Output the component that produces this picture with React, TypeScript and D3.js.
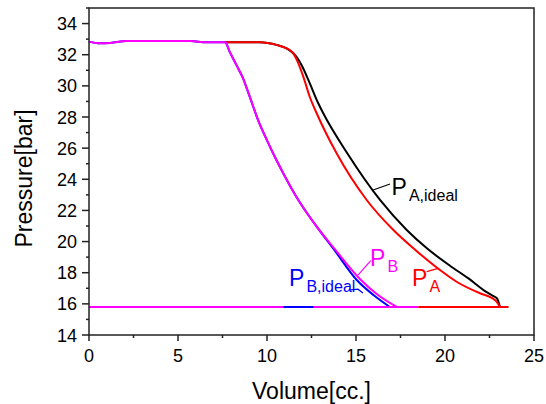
import React from "react";
import * as d3 from "d3";

// Pressure–volume traces (volume in cc, pressure in bar)
const pA: [number, number][] = [
  [7.65, 32.8], [9.6, 32.8], [10.54, 32.63], [11.1, 32.41], [11.48, 32.09],
  [11.76, 31.45], [12.04, 30.59], [12.4, 29.3], [12.79, 28.24], [13.91, 25.67],
  [15.6, 22.67], [17.1, 20.74], [18.5, 19.3], [19.72, 18.17], [20.65, 17.42],
  [21.97, 16.68], [22.6, 16.4], [22.9, 16.14], [23.09, 15.8],
];
const pAIdeal: [number, number][] = [
  [7.65, 32.8], [9.6, 32.8], [10.54, 32.63], [11.1, 32.41], [11.66, 31.87],
  [11.94, 31.34], [12.4, 30.17], [12.88, 28.88], [13.16, 28.24], [14.51, 25.67],
  [16.35, 22.67], [17.85, 20.74], [19.0, 19.55], [20.28, 18.45], [21.3, 17.65],
  [22.34, 16.75], [22.72, 16.5], [22.92, 16.35], [23.09, 15.8],
];
const pB: [number, number][] = [
  [0, 32.84], [0.6, 32.73], [1.2, 32.76], [2.1, 32.88], [5.7, 32.88],
  [6.6, 32.8], [7.65, 32.8], [7.9, 32.2], [8.3, 31.3], [8.65, 30.5],
  [9.0, 29.4], [9.5, 27.8], [10.0, 26.5], [10.5, 25.3], [11.0, 24.2],
  [11.69, 22.8], [12.7, 21.1], [13.82, 19.5], [15.22, 17.6], [16.2, 16.6],
  [17.29, 15.8],
];
const pBIdeal: [number, number][] = [
  [0, 32.84], [0.6, 32.73], [1.2, 32.76], [2.1, 32.88], [5.7, 32.88],
  [6.6, 32.8], [7.65, 32.8], [7.9, 32.2], [8.3, 31.3], [8.65, 30.5],
  [9.0, 29.4], [9.5, 27.8], [10.0, 26.5], [10.5, 25.3], [11.0, 24.2],
  [11.69, 22.8], [12.7, 21.1], [13.82, 19.4], [15.03, 17.55], [16.0, 16.55],
  [16.9, 15.8],
];

// Return strokes along the low-pressure line
const baseP = 15.8;
const baseB = [0, 18.5];
const baseA = [18.5, 23.57];
const baseBIdeal = [10.9, 12.6];

const xMajor = [0, 5, 10, 15, 20, 25];
const xMinor = [2.5, 7.5, 12.5, 17.5, 22.5];
const yMajor = [14, 16, 18, 20, 22, 24, 26, 28, 30, 32, 34];
const yMinor = [15, 17, 19, 21, 23, 25, 27, 29, 31, 33, 35];

const RED = "#ff0000";
const BLACK = "#000000";
const BLUE = "#0000ff";
const MAGENTA = "#ff00ff";

const W = 546;
const H = 404;
const left = 89;
const right = 534;
const top = 8;
const bottom = 335;
const font = "'Liberation Sans', Arial, sans-serif";

export default function App() {
  const x = d3.scaleLinear().domain([0, 25]).range([left, right]);
  const y = d3.scaleLinear().domain([14, 35]).range([bottom, top]);
  const line = d3
    .line<[number, number]>()
    .x((d) => x(d[0]))
    .y((d) => y(d[1]))
    .curve(d3.curveMonotoneX);
  const seg = (r: number[]) => `M${x(r[0])},${y(baseP)}H${x(r[1])}`;
  const lead = (pts: [number, number][]) =>
    d3.line<[number, number]>().x((d) => x(d[0])).y((d) => y(d[1]))(pts) || "";

  const axisColor = "#222";
  const label = (
    main: string,
    sub: string,
    vx: number,
    vy: number,
    color: string
  ) => (
    <text x={x(vx)} y={y(vy)} fill={color} fontFamily={font} fontSize={23}>
      {main}
      <tspan fontSize={16} dy={6} dx={2}>
        {sub}
      </tspan>
    </text>
  );

  return (
    <svg
      width={W}
      height={H}
      style={{ position: "absolute", left: 0, top: 0, background: "#fff" }}
    >
      {/* traces */}
      <path d={line(pAIdeal) || ""} fill="none" stroke={BLACK} strokeWidth={2} />
      <path d={line(pA) || ""} fill="none" stroke={RED} strokeWidth={2} />
      <path d={line(pBIdeal) || ""} fill="none" stroke={BLUE} strokeWidth={2} />
      <path d={line(pB) || ""} fill="none" stroke={MAGENTA} strokeWidth={2} />
      <path d={seg(baseB)} stroke={MAGENTA} strokeWidth={2} />
      <path d={seg(baseA)} stroke={RED} strokeWidth={2} />
      <path d={seg(baseBIdeal)} stroke={BLUE} strokeWidth={2} />

      {/* frame */}
      <rect
        x={left}
        y={top}
        width={right - left}
        height={bottom - top}
        fill="none"
        stroke={axisColor}
        strokeWidth={1.5}
      />

      {/* x axis */}
      {xMajor.map((v) => (
        <g key={"xm" + v}>
          <line x1={x(v)} x2={x(v)} y1={bottom} y2={bottom + 6} stroke={axisColor} strokeWidth={1.5} />
          <text x={x(v)} y={bottom + 27} textAnchor="middle" fontFamily={font} fontSize={18}>
            {v}
          </text>
        </g>
      ))}
      {xMinor.map((v) => (
        <line key={"xn" + v} x1={x(v)} x2={x(v)} y1={bottom} y2={bottom + 3} stroke={axisColor} strokeWidth={1.5} />
      ))}

      {/* y axis */}
      {yMajor.map((v) => (
        <g key={"ym" + v}>
          <line x1={left - 7} x2={left} y1={y(v)} y2={y(v)} stroke={axisColor} strokeWidth={1.5} />
          <text x={left - 12} y={y(v) + 6.5} textAnchor="end" fontFamily={font} fontSize={18}>
            {v}
          </text>
        </g>
      ))}
      {yMinor.map((v) => (
        <line key={"yn" + v} x1={left - 3} x2={left} y1={y(v)} y2={y(v)} stroke={axisColor} strokeWidth={1.5} />
      ))}

      {/* axis titles */}
      <text x={(left + right) / 2} y={399} textAnchor="middle" fontFamily={font} fontSize={23}>
        Volume[cc.]
      </text>
      <text
        transform={`translate(32,${(top + bottom) / 2 + 7}) rotate(-90)`}
        textAnchor="middle"
        fontFamily={font}
        fontSize={23}
      >
        Pressure[bar]
      </text>

      {/* curve labels with leaders */}
      <path d={lead([[15.96, 23.31], [16.91, 23.7]])} fill="none" stroke={BLACK} strokeWidth={1.2} />
      {label("P", "A,ideal", 17.0, 23.0, BLACK)}
      <path d={lead([[19.62, 18.28], [18.97, 18.07]])} fill="none" stroke={RED} strokeWidth={1.2} />
      {label("P", "A", 18.15, 17.15, RED)}
      <path d={lead([[15.11, 17.85], [15.83, 18.77]])} fill="none" stroke={MAGENTA} strokeWidth={1.2} />
      {label("P", "B", 15.79, 18.43, MAGENTA)}
      <path d={lead([[14.6, 16.89], [15.11, 16.94], [15.39, 16.7]])} fill="none" stroke={BLUE} strokeWidth={1.2} />
      {label("P", "B,ideal", 11.24, 17.15, BLUE)}
    </svg>
  );
}
